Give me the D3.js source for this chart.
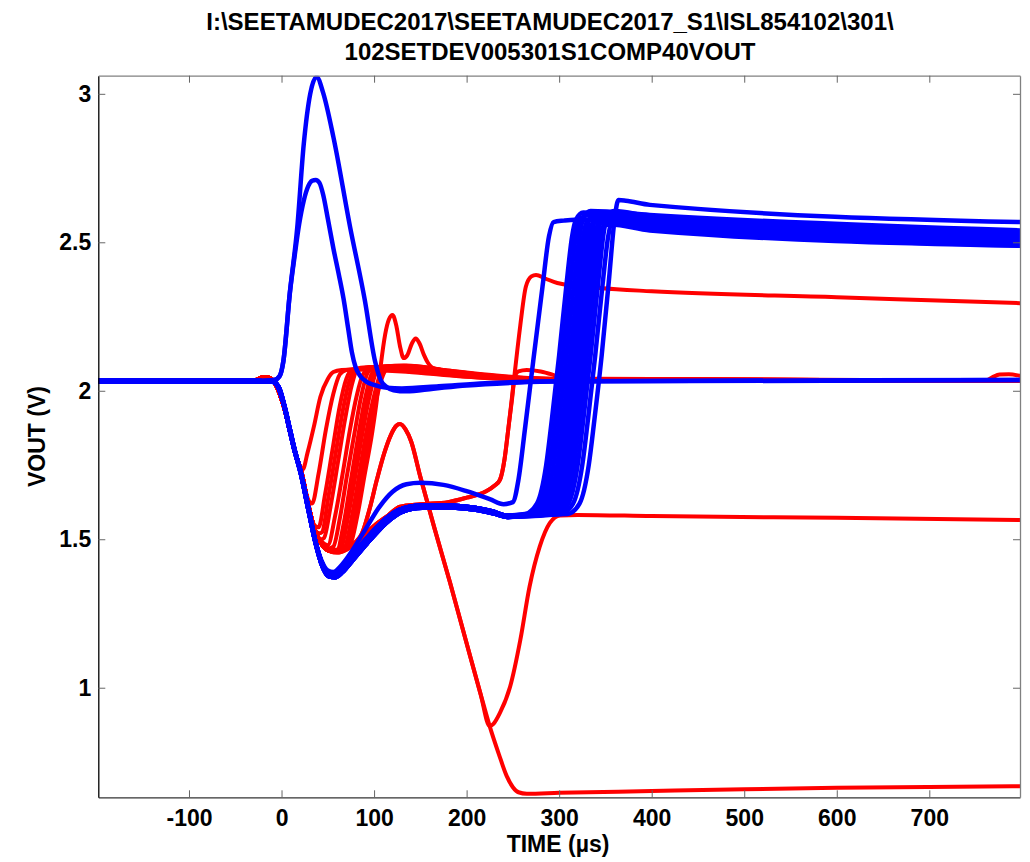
<!DOCTYPE html>
<html><head><meta charset="utf-8">
<script src="https://cdn.jsdelivr.net/npm/d3@7"></script>
<style>
body{margin:0;background:#fff}
text{font-family:"Liberation Sans",Arial,Helvetica,sans-serif}
</style>
</head><body>
<svg id="chart" width="1030" height="862"></svg>
<script>
// ---------- text / ticks ----------
const titleLines = ["I:\\SEETAMUDEC2017\\SEETAMUDEC2017_S1\\ISL854102\\301\\", "102SETDEV005301S1COMP40VOUT"];
const xLabel = "TIME (µs)";
const yLabel = "VOUT (V)";
const xTicks = [-100, 0, 100, 200, 300, 400, 500, 600, 700];
const xTickLabels = ["-100", "0", "100", "200", "300", "400", "500", "600", "700"];
const yTicks = [1, 1.5, 2, 2.5, 3];
const yTickLabels = ["1", "1.5", "2", "2.5", "3"];
const xDomain = [-198, 798];
const yDomain = [0.631, 3.061];

// ---------- red traces (time µs, volts) ----------
const redStart = [[-198,2.033],[-30,2.034],[-19,2.046],[-13,2.043],[-7,2.025],[-2,1.99],[4,1.93],[10,1.85],[16,1.78]];
const redF1 = [[20,1.745],[23,1.735],[28,1.79],[35,1.88],[42,1.98],[50,2.04],[56,2.063],[65,2.07],[80,2.072],[100,2.07],[130,2.065],[170,2.055],[210,2.045],[260,2.038],[340,2.035],[798,2.033]];
const redF2 = [[22,1.72],[28,1.64],[33,1.62],[40,1.72],[48,1.87],[56,1.99],[63,2.055],[70,2.07],[90,2.075],[120,2.07],[160,2.06],[200,2.048],[250,2.04],[320,2.036],[798,2.033]];
const redF3 = [[22,1.72],[28,1.63],[35,1.55],[40,1.54],[47,1.65],[55,1.80],[63,1.95],[70,2.04],[76,2.07],[95,2.08],[130,2.072],[170,2.06],[210,2.05],[260,2.04],[330,2.036],[798,2.033]];
const redF4 = [[22,1.72],[28,1.63],[36,1.53],[41,1.52],[44,1.525],[50,1.63],[58,1.78],[66,1.93],[73,2.03],[79,2.068],[98,2.078],[128,2.074],[168,2.06],[215,2.048],[275,2.04],[798,2.033]];
const redF5 = [[22,1.72],[28,1.63],[36,1.53],[43,1.50],[46,1.505],[53,1.61],[61,1.76],[69,1.91],[76,2.02],[82,2.07],[100,2.08],[130,2.075],[170,2.062],[220,2.048],[280,2.04],[360,2.036],[798,2.033]];
const redF6 = [[22,1.72],[28,1.63],[36,1.53],[44,1.49],[50,1.48],[58,1.58],[66,1.72],[74,1.87],[81,1.98],[88,2.055],[96,2.075],[120,2.08],[150,2.075],[190,2.06],[240,2.045],[300,2.038],[798,2.033]];
const redF7 = [[22,1.72],[28,1.63],[36,1.53],[44,1.485],[52,1.47],[56,1.475],[63,1.57],[71,1.72],[79,1.86],[86,1.98],[93,2.06],[100,2.078],[125,2.082],[160,2.07],[200,2.055],[250,2.043],[320,2.037],[798,2.033]];
const redF8 = [[22,1.72],[28,1.63],[36,1.53],[44,1.48],[52,1.465],[60,1.465],[67,1.55],[75,1.70],[83,1.85],[90,1.97],[97,2.055],[104,2.08],[130,2.083],[170,2.068],[215,2.052],[270,2.041],[340,2.036],[798,2.033]];
const redF9 = [[22,1.72],[28,1.63],[36,1.53],[44,1.48],[52,1.462],[58,1.462],[62,1.47],[69,1.57],[77,1.72],[85,1.86],[92,1.97],[99,2.05],[106,2.08],[132,2.084],[172,2.068],[218,2.052],[278,2.041],[798,2.034]];
const redF10 = [[22,1.72],[28,1.63],[36,1.53],[44,1.48],[52,1.46],[60,1.458],[64,1.465],[71,1.56],[79,1.70],[87,1.85],[95,1.98],[102,2.06],[110,2.082],[135,2.085],[175,2.07],[220,2.052],[280,2.04],[798,2.034]];
const redF11 = [[22,1.72],[28,1.63],[36,1.53],[44,1.48],[52,1.46],[60,1.458],[68,1.47],[75,1.56],[83,1.70],[91,1.85],[99,1.97],[106,2.05],[113,2.08],[140,2.083],[180,2.066],[230,2.05],[290,2.04],[798,2.034]];
const redF12 = [[22,1.72],[28,1.63],[36,1.53],[44,1.48],[52,1.46],[60,1.458],[68,1.468],[72,1.478],[79,1.57],[87,1.72],[95,1.86],[103,1.98],[110,2.055],[117,2.08],[145,2.08],[185,2.065],[235,2.048],[300,2.039],[798,2.034]];
const redPeak = [[22,1.72],[28,1.63],[36,1.53],[44,1.48],[52,1.46],[60,1.458],[68,1.468],[74,1.48],[82,1.58],[90,1.72],[98,1.86],[103,1.97],[107,2.08],[112,2.19],[116,2.24],[120,2.255],[124,2.22],[128,2.15],[132,2.11],[136,2.12],[141,2.16],[145,2.176],[149,2.16],[154,2.12],[158,2.095],[165,2.075],[190,2.065],[230,2.052],[290,2.04],[798,2.034]];
const redDropStart = [[22,1.72],[28,1.63],[36,1.53],[44,1.48],[52,1.46],[60,1.458],[70,1.47],[80,1.49],[87,1.52],[95,1.60],[103,1.70],[111,1.79],[118,1.85],[124,1.882],[128,1.888],[134,1.87],[140,1.83],[150,1.71],[165,1.54],[182,1.355],[200,1.15],[215,0.98],[225,0.87]];
const redDropV = [[229,0.878],[236,0.915],[247,1.003],[258,1.16],[268,1.34],[279,1.475],[290,1.555],[301,1.58],[320,1.582],[400,1.578],[600,1.572],[798,1.565]];
const redDropLow = [[235,0.775],[243,0.705],[250,0.665],[256,0.648],[265,0.643],[300,0.646],[400,0.652],[500,0.658],[600,0.663],[700,0.666],[798,0.668]];
const redLateStart = [[22,1.72],[28,1.63],[36,1.53],[44,1.48],[52,1.46],[60,1.455],[70,1.465],[85,1.50],[100,1.545],[115,1.58],[128,1.61],[150,1.618],[180,1.625],[200,1.64],[220,1.66],[230,1.68],[236,1.70],[241,1.77],[245,1.87]];
const redLateHigh = [[248,1.95],[252,2.06],[258,2.22],[264,2.35],[270,2.385],[275,2.39],[285,2.378],[298,2.363],[344,2.346],[400,2.335],[600,2.315],[798,2.295]];
const redLateHump = [[249,1.97],[252,2.045],[256,2.065],[265,2.07],[280,2.065],[292,2.055],[304,2.042],[330,2.036],[500,2.034],[760,2.033],[768,2.045],[776,2.055],[786,2.056],[798,2.05]];

// ---------- blue traces ----------
const blueSpikeHigh = [[-198,2.033],[-30,2.033],[-8,2.036],[-2,2.05],[2,2.10],[9,2.33],[17,2.55],[24,2.83],[31,3.0],[38,3.057],[45,3.003],[56,2.855],[74,2.553],[90,2.305],[101,2.10],[107,2.037],[114,2.012],[121,2.002],[135,1.998],[164,2.007],[200,2.018],[250,2.027],[300,2.032],[798,2.036]];
const blueSpikeLow = [[-198,2.033],[-30,2.033],[-8,2.036],[-2,2.05],[2,2.10],[9,2.33],[14,2.45],[19,2.56],[24,2.64],[29,2.69],[33,2.707],[37,2.71],[41,2.70],[45,2.66],[50,2.58],[56,2.48],[62,2.39],[67,2.31],[72,2.21],[76,2.13],[80,2.08],[85,2.05],[92,2.03],[100,2.02],[114,2.01],[130,2.008],[170,2.015],[220,2.025],[280,2.031],[798,2.036]];
const blueFallA = [[-198,2.033],[-30,2.033],[-10,2.031],[-4,2.015],[2,1.96],[8,1.88],[14,1.80],[20,1.735],[28,1.62],[36,1.50],[43,1.425],[50,1.387],[56,1.382],[64,1.40],[75,1.44],[90,1.495],[103,1.54],[115,1.575],[128,1.60],[150,1.613],[180,1.614],[210,1.605],[230,1.592],[242,1.58]];
const blueFallB = [[-198,2.033],[-30,2.033],[-10,2.031],[-3,2.012],[3,1.95],[9,1.87],[15,1.79],[21,1.72],[29,1.60],[37,1.485],[44,1.41],[51,1.375],[58,1.372],[66,1.39],[77,1.43],[92,1.485],[105,1.53],[118,1.568],[130,1.592],[152,1.606],[182,1.607],[212,1.598],[232,1.585],[244,1.575]];
const blueHump = [[-198,2.033],[-30,2.033],[-10,2.031],[-4,2.015],[2,1.96],[8,1.88],[14,1.80],[20,1.735],[28,1.62],[36,1.50],[43,1.43],[50,1.395],[56,1.39],[64,1.41],[75,1.455],[90,1.53],[106,1.61],[120,1.66],[135,1.685],[150,1.69],[175,1.683],[200,1.662],[225,1.635],[240,1.618],[250,1.625],[256,1.70],[263,1.87],[272,2.10],[282,2.35],[289,2.52],[294,2.568],[305,2.573],[317,2.576],[398,2.57],[798,2.505]];
const blueRise1 = [[263,1.585],[276,1.62],[286,1.75],[292,1.90],[300,2.12],[308,2.36],[314,2.52],[318,2.575],[326,2.60],[398,2.585],[798,2.525]];
const blueRise2 = [[267,1.585],[280,1.62],[290,1.75],[296,1.90],[304,2.12],[312,2.36],[318,2.52],[322,2.575],[330,2.59],[398,2.575],[798,2.515]];
const blueRise3 = [[271,1.585],[284,1.62],[294,1.75],[300,1.90],[308,2.12],[316,2.36],[322,2.52],[326,2.58],[334,2.605],[398,2.592],[798,2.54]];
const blueRise4 = [[275,1.585],[288,1.62],[298,1.75],[304,1.90],[312,2.12],[320,2.36],[326,2.52],[330,2.57],[338,2.58],[398,2.56],[798,2.505]];
const blueRise5 = [[278,1.585],[291,1.62],[301,1.75],[307,1.90],[315,2.12],[323,2.36],[329,2.52],[333,2.58],[341,2.595],[398,2.58],[798,2.528]];
const blueRise6 = [[281,1.585],[294,1.62],[304,1.75],[310,1.90],[318,2.12],[326,2.36],[332,2.52],[336,2.565],[344,2.57],[398,2.55],[798,2.495]];
const blueRise7 = [[284,1.585],[297,1.62],[307,1.75],[313,1.90],[321,2.12],[329,2.36],[335,2.52],[339,2.575],[347,2.588],[398,2.57],[798,2.52]];
const blueRise8 = [[287,1.585],[300,1.62],[310,1.75],[316,1.90],[324,2.12],[332,2.36],[338,2.52],[342,2.56],[350,2.565],[398,2.545],[798,2.49]];
const blueRise9 = [[290,1.585],[303,1.62],[313,1.75],[319,1.90],[327,2.12],[335,2.36],[341,2.52],[345,2.575],[353,2.585],[398,2.565],[798,2.51]];
const blueRise10 = [[293,1.585],[306,1.62],[316,1.75],[322,1.90],[330,2.12],[338,2.36],[344,2.52],[348,2.555],[356,2.56],[398,2.54],[798,2.488]];
const blueRise11 = [[297,1.585],[310,1.62],[320,1.75],[326,1.90],[334,2.12],[342,2.36],[348,2.53],[352,2.59],[360,2.605],[398,2.588],[798,2.535]];
const blueRise12 = [[302,1.585],[315,1.62],[325,1.75],[331,1.90],[339,2.12],[347,2.36],[353,2.52],[357,2.57],[365,2.575],[398,2.555],[798,2.50]];
const blueRiseTop = [[309,1.585],[322,1.62],[332,1.75],[338,1.90],[346,2.12],[354,2.38],[360,2.58],[364,2.642],[372,2.64],[398,2.626],[798,2.568]];

// assemble traces from the typed pieces
const redTraces = [
  redStart.concat(redF1), redStart.concat(redF2), redStart.concat(redF3), redStart.concat(redF4),
  redStart.concat(redF5), redStart.concat(redF6), redStart.concat(redF7), redStart.concat(redF8),
  redStart.concat(redF9), redStart.concat(redF10), redStart.concat(redF11), redStart.concat(redF12),
  redStart.concat(redPeak),
  redStart.concat(redDropStart, redDropV), redStart.concat(redDropStart, redDropLow),
  redStart.concat(redLateStart, redLateHigh), redStart.concat(redLateStart, redLateHump)
];
const blueTraces = [
  blueSpikeHigh, blueSpikeLow, blueHump,
  blueFallA.concat(blueRise1), blueFallB.concat(blueRise2), blueFallA.concat(blueRise3),
  blueFallB.concat(blueRise4), blueFallA.concat(blueRise5), blueFallB.concat(blueRise6),
  blueFallA.concat(blueRise7), blueFallB.concat(blueRise8), blueFallA.concat(blueRise9),
  blueFallB.concat(blueRise10), blueFallA.concat(blueRise11), blueFallB.concat(blueRise12),
  blueFallA.concat(blueRiseTop)
];

// ---------- drawing ----------
const svg = d3.select("#chart");
const L = 98.3, R = 1020, T = 75.7, B = 797.3;
const x = d3.scaleLinear().domain(xDomain).range([L, R]);
const y = d3.scaleLinear().domain(yDomain).range([B, T]);

svg.append("rect").attr("width",1030).attr("height",862).attr("fill","#fff");

svg.append("defs").append("clipPath").attr("id","clip")
  .append("rect").attr("x",L).attr("y",T).attr("width",R-L).attr("height",B-T);

const line = d3.line().x(d=>x(d[0])).y(d=>y(d[1])).curve(d3.curveMonotoneX);
const plot = svg.append("g").attr("clip-path","url(#clip)");
plot.selectAll("path.red").data(redTraces).join("path").attr("class","red")
  .attr("d",line).attr("fill","none").attr("stroke","#ff0000").attr("stroke-width",4)
  .attr("stroke-linejoin","round").attr("stroke-linecap","round");
plot.selectAll("path.blue").data(blueTraces).join("path").attr("class","blue")
  .attr("d",line).attr("fill","none").attr("stroke","#0000ff").attr("stroke-width",4.5)
  .attr("stroke-linejoin","round").attr("stroke-linecap","round");

// axes
const tickLen = 7;
const gx = svg.append("g").attr("transform",`translate(0,${B})`)
  .call(d3.axisBottom(x).tickValues(xTicks).tickSize(-tickLen).tickSizeOuter(0).tickPadding(12)
    .tickFormat((d,i)=>xTickLabels[i]));
const gy = svg.append("g").attr("transform",`translate(${L},0)`)
  .call(d3.axisLeft(y).tickValues(yTicks).tickSize(-tickLen).tickSizeOuter(0).tickPadding(7)
    .tickFormat((d,i)=>yTickLabels[i]));
const gt = svg.append("g").attr("transform",`translate(0,${T})`)
  .call(d3.axisTop(x).tickValues(xTicks).tickSize(-tickLen).tickSizeOuter(0).tickFormat(""));
const gr = svg.append("g").attr("transform",`translate(${R},0)`)
  .call(d3.axisRight(y).tickValues(yTicks).tickSize(-tickLen).tickSizeOuter(0).tickFormat(""));

[gx,gy,gt,gr].forEach(g=>{
  g.selectAll(".tick line").attr("stroke","#666").attr("stroke-width",1);
  g.selectAll(".tick text").attr("fill","#000").attr("font-size",23).attr("font-weight","bold")
    .attr("font-family",'"Liberation Sans",Arial,sans-serif');
});
gy.select(".domain").attr("stroke","#000").attr("stroke-width",1.3);
gx.select(".domain").attr("stroke","#333").attr("stroke-width",1.3);
gt.select(".domain").attr("stroke","#808080").attr("stroke-width",1.3);
gr.select(".domain").attr("stroke","#808080").attr("stroke-width",1.3);

// titles and labels
svg.selectAll("text.title").data(titleLines).join("text").attr("class","title")
  .attr("x",550).attr("y",(d,i)=>30+i*30).attr("text-anchor","middle")
  .attr("font-size",24).attr("font-weight","bold").text(d=>d);
svg.append("text").attr("x",558).attr("y",852).attr("text-anchor","middle")
  .attr("font-size",23).attr("font-weight","bold").text(xLabel);
svg.append("text").attr("transform",`translate(45,${(T+B)/2}) rotate(-90)`).attr("text-anchor","middle")
  .attr("font-size",23).attr("font-weight","bold").text(yLabel);
</script>
</body></html>
